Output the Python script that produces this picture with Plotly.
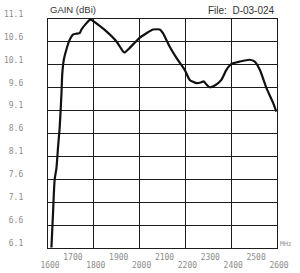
import plotly.graph_objects as go

freq_mhz = [1615, 1622, 1629, 1637, 1644, 1651, 1659, 1662, 1669, 1680, 1695, 1709, 1724, 1738,
            1746, 1768, 1782, 1790, 1804, 1855, 1899, 1928, 1935, 1957, 2000, 2030, 2059, 2088,
            2102, 2131, 2161, 2197, 2219, 2248, 2270, 2280, 2292, 2306, 2335, 2357, 2379, 2401,
            2437, 2481, 2503, 2525, 2554, 2583, 2597]
gain_dbi = [6.11, 6.87, 7.59, 7.85, 8.31, 8.73, 9.49, 9.88, 10.21, 10.43, 10.65, 10.76, 10.78, 10.79,
            10.87, 11.01, 11.08, 11.08, 11.03, 10.83, 10.61, 10.39, 10.37, 10.47, 10.69, 10.79, 10.87, 10.87,
            10.79, 10.50, 10.25, 9.99, 9.77, 9.70, 9.72, 9.74, 9.67, 9.61, 9.67, 9.77, 9.99, 10.12,
            10.17, 10.21, 10.17, 9.99, 9.59, 9.27, 9.08]

y_ticks = [6.1, 6.6, 7.1, 7.6, 8.1, 8.6, 9.1, 9.6, 10.1, 10.6, 11.1]
y_ticktext = ["6.1", "6.6", "7.1", "7.6", "8.1", "8.6", "9.1", "9.6", "10.1", "10.6", "11.1"]
x_even = [1600, 1800, 2000, 2200, 2400, 2600]
x_odd = [1700, 1900, 2100, 2300, 2500]

tick_font = dict(family="DejaVu Sans Mono", size=8, color="#8c8c8c")
grid_col = "#1c1c1c"

fig = go.Figure()
fig.add_trace(go.Scatter(x=freq_mhz, y=gain_dbi, mode="lines",
                         line=dict(color="#111111", width=2.2, shape="spline", smoothing=0.6),
                         showlegend=False, hoverinfo="skip"))
# invisible trace for overlay axis
fig.add_trace(go.Scatter(x=[1600, 2600], y=[6.1, 6.1], xaxis="x2", mode="lines",
                         line=dict(width=0), showlegend=False, hoverinfo="skip"))

fig.update_layout(
    width=300, height=273,
    margin=dict(l=48, r=23, t=19, b=25, autoexpand=False),
    paper_bgcolor="white", plot_bgcolor="white",
    xaxis=dict(range=[1600, 2600], tickmode="array", tickvals=x_even,
               ticktext=[str(v) for v in x_even], tickfont=tick_font, automargin=False,
               ticklabelstandoff=9, ticklabelshift=2, ticks="",
               showgrid=True, gridcolor=grid_col, gridwidth=1.3, dtick=100,
               showline=True, linecolor=grid_col, linewidth=1.3, mirror=True,
               zeroline=False, fixedrange=True),
    xaxis2=dict(range=[1600, 2600], overlaying="x", anchor="y", side="bottom",
                tickmode="array", tickvals=x_odd, ticktext=[str(v) for v in x_odd], automargin=False,
                tickfont=tick_font, ticklabelstandoff=3, ticklabelshift=2, ticks="",
                showgrid=False, showline=False, zeroline=False, fixedrange=True),
    yaxis=dict(range=[6.1, 11.1], tickmode="array", tickvals=y_ticks, ticktext=y_ticktext,
               tickfont=tick_font, ticklabelstandoff=22, ticklabelshift=-5, ticks="", automargin=False,
               showgrid=True, gridcolor=grid_col, gridwidth=1.3,
               showline=True, linecolor=grid_col, linewidth=1.3, mirror=True,
               zeroline=False, fixedrange=True),
    annotations=[
        dict(text="GAIN (dBi)", xref="paper", yref="paper", x=0, y=1, xanchor="left",
             yanchor="bottom", yshift=2, showarrow=False,
             font=dict(family="Liberation Sans", size=9.5, color="#333333")),
        dict(text="File:  D-03-024", xref="paper", yref="paper", x=1, y=1, xanchor="right",
             yanchor="bottom", yshift=1, showarrow=False,
             font=dict(family="Liberation Sans", size=10, color="#333333")),
        dict(text="MHz", xref="paper", yref="paper", x=1, y=0, xanchor="left",
             yanchor="middle", xshift=1, yshift=4, showarrow=False,
             font=dict(family="DejaVu Sans Mono", size=6.5, color="#8c8c8c")),
    ],
)

fig.write_html("out.html")
